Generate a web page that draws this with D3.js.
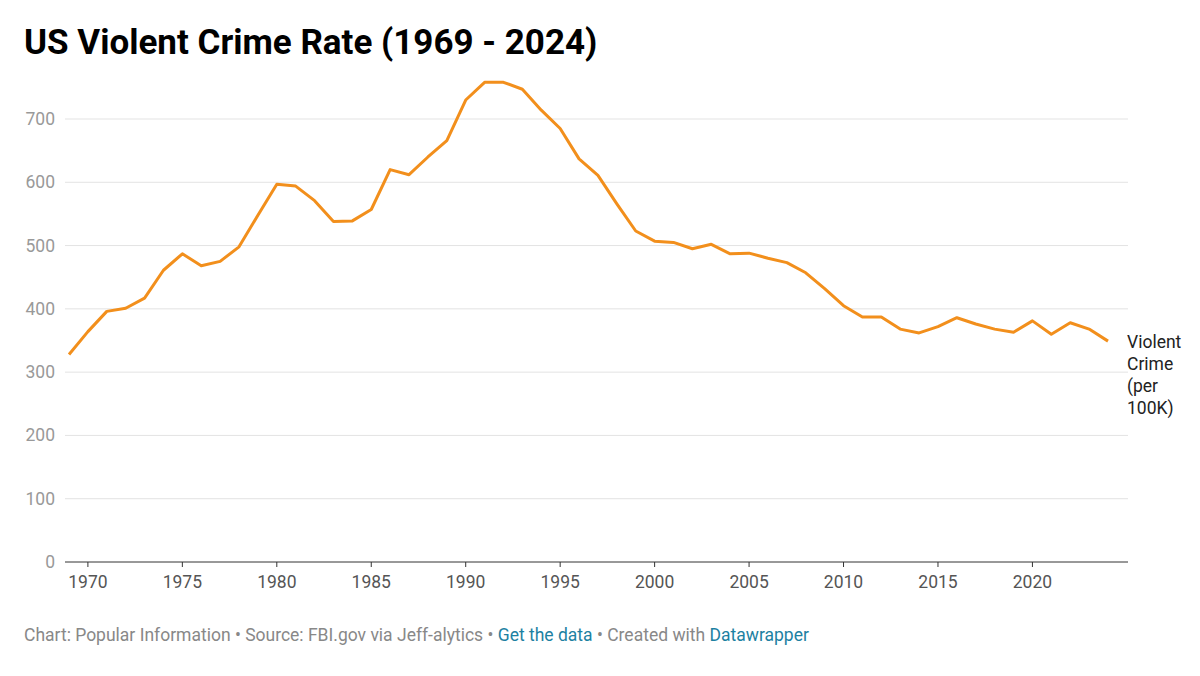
<!DOCTYPE html>
<html>
  <head>
    <script src="https://d3js.org/d3.v7.min.js"></script>
    <style>
      html, body { margin: 0; padding: 0; background: #fff; }
      * { font-family: Roboto, 'Noto Sans', sans-serif; }
    </style>
  </head>
  <body>
    <svg id="chart" width="1200" height="676"></svg>
    <script>
      var years = d3.range(1969, 2025);
      var rates = [328, 364, 396, 401, 417, 461, 487, 468, 475, 498,
                   548, 597, 594, 571, 538, 539, 557, 620, 612, 640,
                   666, 730, 758, 758, 747, 714, 685, 637, 611, 566,
                   523, 507, 505, 495, 502, 487, 488, 480, 473, 457,
                   432, 405, 387, 387, 368, 362, 372, 386, 376, 368,
                   363, 381, 360, 378, 368, 349];
      var yTicks = [0, 100, 200, 300, 400, 500, 600, 700];
      var xTicks = [1970, 1975, 1980, 1985, 1990, 1995, 2000, 2005, 2010, 2015, 2020];
      var labelLines = ['Violent', 'Crime', '(per', '100K)'];

      var svg = d3.select('#chart');
      var x = d3.scaleLinear().domain([1969, 2024]).range([69, 1108]);
      var y = d3.scaleLinear().domain([0, 700]).range([562, 119]);

      svg.append('text').attr('x', 24).attr('y', 54)
        .attr('font-size', 35).attr('font-weight', 700).attr('fill', '#000')
        .text('US Violent Crime Rate (1969 - 2024)');

      // grid
      var grid = svg.append('g');
      yTicks.forEach(function(t) {
        grid.append('line').attr('x1', 65).attr('x2', 1128)
          .attr('y1', y(t)).attr('y2', y(t))
          .attr('stroke', t === 0 ? '#333' : '#e3e3e3').attr('stroke-width', 1);
        grid.append('text').attr('x', 55).attr('y', y(t) + 6)
          .attr('text-anchor', 'end').attr('font-size', 17.5).attr('fill', '#999')
          .text(t);
      });

      xTicks.forEach(function(t) {
        grid.append('line').attr('x1', x(t)).attr('x2', x(t))
          .attr('y1', 562).attr('y2', 567).attr('stroke', '#333');
        grid.append('text').attr('x', x(t)).attr('y', 588)
          .attr('text-anchor', 'middle').attr('font-size', 17.5).attr('fill', '#555')
          .text(t);
      });

      var line = d3.line().x(function(d, i) { return x(years[i]); }).y(function(d) { return y(d); });
      svg.append('path').datum(rates).attr('d', line)
        .attr('fill', 'none').attr('stroke', '#f28f1c').attr('stroke-width', 3)
        .attr('stroke-linejoin', 'round');

      var lbl = svg.append('text').attr('x', 1127).attr('y', 348)
        .attr('font-size', 17.5).attr('fill', '#222');
      labelLines.forEach(function(s, i) {
        lbl.append('tspan').attr('x', 1127).attr('dy', i === 0 ? 0 : 22).text(s);
      });

      var foot = svg.append('text').attr('x', 24).attr('y', 641)
        .attr('font-size', 17.5).attr('fill', '#888');
      foot.append('tspan').text('Chart: Popular Information • Source: FBI.gov via Jeff-alytics • ');
      foot.append('tspan').attr('fill', '#1d81a2').text('Get the data');
      foot.append('tspan').text(' • Created with ');
      foot.append('tspan').attr('fill', '#1d81a2').text('Datawrapper');
    </script>
  </body>
</html>
